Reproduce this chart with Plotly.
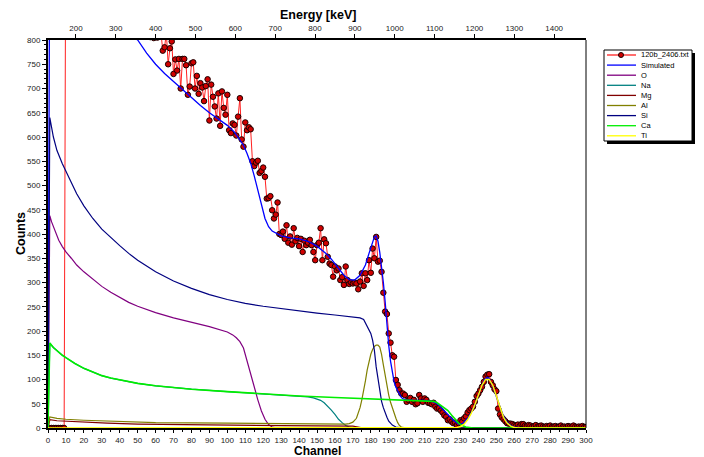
import plotly.graph_objects as go

# ---------------- data ----------------
data_counts = (
    [0, 0, 0, 0, 0, 0, 0, 0, 0, 0] +
    [1150, 1130, 1120, 1105, 1090, 1080, 1070, 1055, 1050, 1040,
     1030, 1020, 1010, 1000, 990, 985, 975, 965, 960, 950,
     945, 935, 930, 920, 915, 905, 900, 895, 885, 880,
     870, 868, 860, 855, 850, 842, 840, 835, 830, 826,
     820, 818, 815, 822, 812, 808, 815, 806, 810, 804,
     812, 805, 808, 815] +
    [778, 785, 815, 750, 783, 797] +
    [730, 760, 737, 761, 700, 761, 761, 748, 687, 704,
     752, 754, 700, 726, 689, 711, 702, 674, 705, 719,
     634, 708, 683, 663, 638, 690, 623, 694, 660, 646,
     687, 614, 608, 628, 625, 603, 642, 680, 595, 580,
     630, 614, 620, 616, 550, 540, 547, 551, 526, 530,
     537, 518, 473, 474, 478, 449] +
    [432, 440, 465, 400, 398, 405, 390, 418, 382, 395, 378, 412, 385, 392, 375] +
    [390, 363, 386, 377, 382, 388, 377, 363, 346, 377,
     382, 412, 346, 389, 381, 353, 339, 336, 312, 333,
     325, 329, 305, 311, 295, 333, 305, 297, 300, 298,
     300, 298, 286, 302, 319, 293, 319, 305, 346, 320,
     370, 350, 394, 343, 345, 322, 279, 240, 235, 195,
     176, 150, 147, 99, 89, 78, 71, 71, 68, 54,
     58, 62, 54, 58, 49, 51, 68, 61, 54, 61,
     58, 52, 51, 49, 52, 44, 40, 41, 36, 32,
     26, 23, 16, 18, 13, 10, 11, 6, 10, 16,
     13, 20, 24, 32, 37, 40, 44, 54, 66, 71,
     78, 85, 95, 106, 110, 111, 95, 88, 80, 76,
     40, 28, 22, 18, 14, 10, 9, 9, 8, 6] +
    [5, 7, 4, 8, 8, 5, 4, 6, 5, 3, 4, 6, 3, 4, 5, 3, 2, 4, 3, 5,
     2, 3, 4, 2, 3, 5, 2, 3, 2, 4, 3, 2, 5, 3, 2, 3, 2, 4, 2, 2]
)
data_channel = list(range(301))
assert len(data_counts) == len(data_channel), len(data_counts)

sim_channel = [0, 1, 5, 10, 20, 30, 40, 45, 50, 55, 60, 65, 70, 75, 80, 85, 90, 95, 100,
               104, 107, 109, 111, 113, 115, 117, 119, 121, 123, 125, 130, 135, 140, 145,
               150, 155, 158, 162, 165, 168, 171, 174, 177, 179, 181, 182, 183, 184, 185,
               186, 187, 188, 189, 190, 191, 192, 193, 194, 195, 196, 197, 198, 200, 205,
               210, 214, 216, 218, 220, 222, 224, 226, 228, 229, 230, 231, 232, 234, 236,
               238, 240, 242, 243, 244, 245, 246, 247, 248, 250, 252, 254, 256, 258, 260,
               262, 265, 300]
sim_counts = [0, 1080, 1030, 980, 910, 860, 825, 812, 800, 773, 750, 731, 714, 698, 680, 665, 650, 637, 624,
              610, 595, 583, 566, 546, 520, 490, 458, 432, 415, 406, 396, 392, 390, 385,
              375, 360, 348, 330, 315, 306, 305, 315, 336, 360, 385, 394, 396, 385, 362,
              335, 300, 260, 210, 170, 138, 113, 95, 84, 76, 68, 63, 60, 58, 57,
              57, 55, 52, 47, 40, 32, 24, 16, 10, 8, 8, 9, 12, 20, 32,
              48, 68, 88, 97, 102, 104, 102, 95, 86, 65, 42, 24, 12, 5, 2,
              1, 0, 0]

o_channel = [0, 1, 2, 4, 6, 8, 10, 13, 16, 20, 25, 30, 35, 40, 45, 50, 60, 70, 80, 90, 100,
             103, 105, 107, 109, 111, 113, 115, 117, 119, 121, 123, 125, 128, 300]
o_counts = [0, 438, 425, 404, 387, 374, 363, 350, 336, 322, 306, 292, 280, 269, 259, 251, 238, 227, 218, 209, 198,
            192, 186, 178, 165, 140, 112, 85, 58, 35, 18, 7, 2, 0, 0]

na_channel = [0, 1, 3, 5, 8, 10, 15, 20, 25, 30, 35, 40, 50, 60, 80, 100, 120, 140, 145, 148, 150,
              152, 154, 156, 158, 160, 162, 164, 166, 168, 170, 300]
na_counts = [0, 175, 166, 159, 150, 145, 133, 123, 115, 108, 103, 99, 92, 87, 80, 75, 70, 66, 64, 62, 60,
             57, 52, 45, 37, 28, 18, 11, 5, 2, 0, 0]

mg_channel = [0, 1, 5, 10, 20, 33, 50, 89, 130, 170, 173, 176, 300]
mg_counts = [0, 17, 15, 14, 12, 10, 8, 6, 5, 4, 2, 0, 0]

al_channel = [0, 1, 5, 10, 20, 40, 60, 100, 140, 160, 166, 168, 170, 172, 173, 174, 175, 176, 177,
              178, 179, 180, 181, 182, 183, 184, 185, 186, 187, 188, 189, 190, 191, 192, 193,
              194, 195, 196, 197, 198, 200, 300]
al_counts = [0, 23, 20, 18, 16, 13, 11, 10, 8, 8, 8, 9, 12, 20, 31, 42, 58, 75, 97,
             120, 138, 152, 162, 168, 171, 171, 167, 152, 130, 108, 85, 68, 53, 41, 31,
             20, 11, 5, 2, 1, 0, 0]

si_channel = [0, 1, 3, 5, 8, 10, 13, 16, 20, 25, 30, 35, 40, 45, 50, 60, 70, 80, 90, 100, 110,
              120, 130, 140, 150, 160, 170, 174, 176, 178, 180, 181, 182, 183, 184, 185, 186,
              187, 188, 189, 190, 191, 192, 193, 194, 196, 198, 300]
si_counts = [0, 640, 600, 572, 545, 530, 505, 483, 458, 432, 410, 392, 376, 360, 346, 322, 303, 288, 275, 265, 257,
             251, 246, 242, 237, 233, 229, 227, 224, 208, 195, 181, 160, 126, 100, 72, 55,
             42, 31, 22, 14, 9, 6, 4, 2, 1, 0, 0]

ca_channel = [0, 1, 3, 5, 8, 10, 15, 20, 25, 30, 35, 40, 50, 60, 80, 100, 120, 140, 160, 180, 200,
              210, 215, 217, 219, 221, 223, 225, 227, 229, 231, 233, 235, 237, 300]
ca_counts = [0, 175, 166, 159, 150, 145, 133, 123, 115, 108, 103, 99, 92, 87, 80, 75, 70, 66, 63, 60, 57,
             56, 55, 52, 47, 42, 36, 27, 18, 10, 5, 2, 1, 0, 0]

ti_channel = [0, 226, 228, 230, 232, 234, 236, 238, 240, 242, 244, 246, 248, 250, 252, 254, 256,
              258, 260, 262, 300]
ti_counts = [0, 0, 1, 3, 8, 17, 30, 48, 68, 88, 100, 100, 88, 65, 42, 22, 10, 4, 1, 0, 0]

energy_range = [130, 1480]

legend_names = ["120b_2406.txt", "Simulated", "O", "Na", "Mg", "Al", "Si", "Ca", "Ti"]
colors = ["#ff2020", "#0000ff", "#800080", "#008080", "#800000", "#808000", "#000080", "#00ee00", "#ffff00"]

# ---------------- figure ----------------
OFF = 8                      # page body margin
W, H = 704 - OFF, 457 - OFF
L, R, T, B = 48, 586, 40, 428   # plot area in page pixels


def px_x(p):
    return (p - L) / (R - L)


def px_y(p):
    return (B - p) / (B - T)


fig = go.Figure()

fig.add_trace(go.Scatter(x=data_channel, y=data_counts, mode="lines+markers",
                         line=dict(color=colors[0], width=1),
                         marker=dict(size=5.5, color="#d00000", line=dict(color="#1a0000", width=1)),
                         hoverinfo="skip"))
series = [(sim_channel, sim_counts, 1.3), (o_channel, o_counts, 1.2), (na_channel, na_counts, 1.2),
          (mg_channel, mg_counts, 1.2), (al_channel, al_counts, 1.2), (si_channel, si_counts, 1.2),
          (ca_channel, ca_counts, 1.6), (ti_channel, ti_counts, 1.4)]
for (xs, ys, w), c in zip(series, colors[1:]):
    fig.add_trace(go.Scatter(x=xs, y=ys, mode="lines", line=dict(color=c, width=w), hoverinfo="skip"))

# invisible support trace for the energy axis
fig.add_trace(go.Scatter(x=energy_range, y=[0, 0], xaxis="x2", yaxis="y", mode="lines",
                         line=dict(width=0, color="rgba(0,0,0,0)"), hoverinfo="skip"))

tickfont = dict(family="Arial", size=8, color="#222")
fig.update_layout(
    width=W, height=H, showlegend=False,
    margin=dict(l=L - OFF, r=W - (R - OFF), t=T - OFF, b=H - (B - OFF), pad=0, autoexpand=False),
    paper_bgcolor="white", plot_bgcolor="white",
    xaxis=dict(range=[0, 300], tickmode="linear", tick0=0, dtick=10, ticks="outside", ticklen=3,
               tickcolor="black", tickwidth=1, tickfont=tickfont, showline=True, linecolor="black",
               linewidth=2, showgrid=False, zeroline=False,
               minor=dict(ticks="outside", ticklen=2, dtick=5, tickcolor="black", showgrid=False)),
    xaxis2=dict(range=energy_range, overlaying="x", side="top", anchor="y", tickmode="linear", tick0=0,
                dtick=100, ticks="outside", ticklen=4, tickcolor="black", tickfont=tickfont,
                showline=True, linecolor="black", linewidth=1.5, showgrid=False, zeroline=False),
    yaxis=dict(range=[0, 800], tickmode="linear", tick0=0, dtick=50, ticks="outside", ticklen=4,
               tickcolor="black", tickfont=tickfont, showline=True, linecolor="black", linewidth=2,
               showgrid=False, zeroline=False,
               minor=dict(ticks="outside", ticklen=2, dtick=10, tickcolor="black", showgrid=False)),
)

shapes = [dict(type="line", xref="paper", yref="paper", x0=1, x1=1, y0=0, y1=1,
               line=dict(color="black", width=1))]
annotations = []

# axis titles
title_font = dict(family="Arial", size=12, color="black")
annotations.append(dict(text="<b>Channel</b>", x=px_x(317), y=px_y(450.5), xref="paper", yref="paper",
                        showarrow=False, font=title_font, xanchor="center", yanchor="middle"))
annotations.append(dict(text="<b>Energy [keV]</b>", x=px_x(318), y=px_y(15), xref="paper", yref="paper",
                        showarrow=False, font=dict(family="Arial", size=12.5, color="black"),
                        xanchor="center", yanchor="middle"))
annotations.append(dict(text="<b>Counts</b>", x=px_x(21), y=px_y(234), xref="paper", yref="paper",
                        showarrow=False, font=dict(family="Arial", size=12.5, color="black"),
                        xanchor="center", yanchor="middle", textangle=-90))

# custom legend box with shadow
bx0, bx1, by0, by1 = 604, 692, 50, 141
shapes.append(dict(type="rect", xref="paper", yref="paper", x0=px_x(bx0 + 3), x1=px_x(bx1 + 3),
                   y0=px_y(by0 + 3), y1=px_y(by1 + 3), fillcolor="black", line=dict(width=0)))
shapes.append(dict(type="rect", xref="paper", yref="paper", x0=px_x(bx0), x1=px_x(bx1),
                   y0=px_y(by0), y1=px_y(by1), fillcolor="white", line=dict(color="black", width=1)))
for i, (name, c) in enumerate(zip(legend_names, colors)):
    yc = 55 + 10.1 * i
    shapes.append(dict(type="line", xref="paper", yref="paper", x0=px_x(607), x1=px_x(636),
                       y0=px_y(yc), y1=px_y(yc), line=dict(color=c, width=1.3)))
    if i == 0:
        shapes.append(dict(type="circle", xref="paper", yref="paper", x0=px_x(618.5), x1=px_x(623.5),
                           y0=px_y(yc - 2.5), y1=px_y(yc + 2.5), fillcolor="#d00000",
                           line=dict(color="#1a0000", width=1)))
    annotations.append(dict(text=name, x=px_x(638.5), y=px_y(yc), xref="paper", yref="paper",
                            showarrow=False, font=dict(family="Arial", size=7.5, color="black"),
                            xanchor="left", yanchor="middle"))

fig.update_layout(shapes=shapes, annotations=annotations)
fig.write_html("out.html")
